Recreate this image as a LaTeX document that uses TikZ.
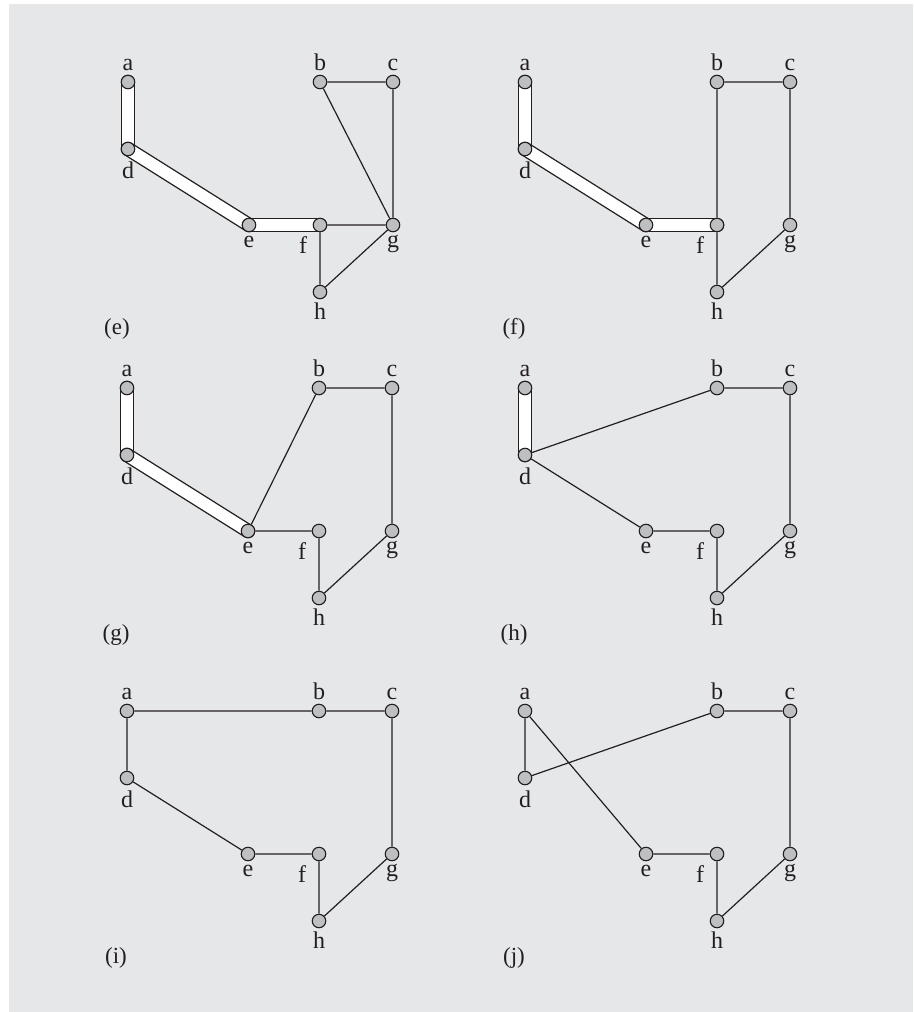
\documentclass[tikz,border=0pt]{standalone}
\usepackage{fontspec}
\setmainfont{Liberation Serif}
\usetikzlibrary{backgrounds}
\definecolor{bgcol}{RGB}{230,231,233}
\definecolor{vtxgray}{RGB}{190,191,193}
\definecolor{edgecol}{RGB}{35,31,32}
\tikzset{
  vtx/.style={circle,draw=edgecol,fill=vtxgray,line width=1.1pt,minimum size=13.5pt,inner sep=0pt},
  edge/.style={line width=1.2pt,draw=edgecol},
  tubeout/.style={line width=14.5pt,draw=edgecol,line cap=round},
  tubein/.style={line width=11.8pt,draw=white,line cap=round},
  lbl/.style={font=\fontsize{24}{24}\selectfont,anchor=base,inner sep=0pt,text=edgecol},
  plbl/.style={font=\fontsize{23}{23}\selectfont,anchor=base,inner sep=0pt,text=edgecol}
}
\newcommand{\graphpanel}[4]{%
  \begin{scope}[shift={(#2,#3)}]
    \node[vtx] (#1a) at (0,0) {};
    \node[vtx] (#1b) at (192,0) {};
    \node[vtx] (#1c) at (265,0) {};
    \node[vtx] (#1d) at (0,67) {};
    \node[vtx] (#1e) at (121,143) {};
    \node[vtx] (#1f) at (192,143) {};
    \node[vtx] (#1g) at (265,143) {};
    \node[vtx] (#1h) at (192,210) {};
    \node[lbl] (#1la) at (0,-12) {a};
    \node[lbl] (#1lb) at (192,-12) {b};
    \node[lbl] (#1lc) at (265,-12) {c};
    \node[lbl] (#1ld) at (0,96) {d};
    \node[lbl] (#1le) at (121,165) {e};
    \node[lbl] (#1lf) at (175,171) {f};
    \node[lbl] (#1lg) at (265,165) {g};
    \node[lbl] (#1lh) at (192,237) {h};
    \node[plbl] (#1cap) at (-11,252) {#4};
  \end{scope}}
\newcommand{\tubeseg}[2]{%
  \draw[tubeout] (#1.center) -- (#2.center);
  \draw[tubein] (#1.center) -- (#2.center);}
\begin{document}
\begin{tikzpicture}[x=1pt,y=-1pt]
\useasboundingbox (0,0) rectangle (913,1012);
\graphpanel{E}{128}{82}{(e)}
\graphpanel{F}{525}{82}{(f)}
\graphpanel{G}{127}{388}{(g)}
\graphpanel{H}{525}{388}{(h)}
\graphpanel{I}{127}{711}{(i)}
\graphpanel{J}{525}{711}{(j)}
\begin{pgfonlayer}{background}
  \fill[bgcol] (9,4) rectangle (913,1012);
  % (e)
  \tubeseg{Ea}{Ed}\tubeseg{Ed}{Ee}\tubeseg{Ee}{Ef}
  \draw[edge] (Eb) -- (Ec) (Eb) -- (Eg) (Ec) -- (Eg) (Ef) -- (Eg) (Ef) -- (Eh) (Eg) -- (Eh);
  % (f)
  \tubeseg{Fa}{Fd}\tubeseg{Fd}{Fe}\tubeseg{Fe}{Ff}
  \draw[edge] (Fb) -- (Fc) (Fb) -- (Ff) (Fc) -- (Fg) (Ff) -- (Fh) (Fg) -- (Fh);
  % (g)
  \tubeseg{Ga}{Gd}\tubeseg{Gd}{Ge}
  \draw[edge] (Ge) -- (Gb) (Gb) -- (Gc) (Gc) -- (Gg) (Ge) -- (Gf) (Gf) -- (Gh) (Gg) -- (Gh);
  % (h)
  \tubeseg{Ha}{Hd}
  \draw[edge] (Hd) -- (Hb) (Hb) -- (Hc) (Hc) -- (Hg) (Hd) -- (He) (He) -- (Hf) (Hf) -- (Hh) (Hg) -- (Hh);
  % (i)
  \draw[edge] (Ia) -- (Ib) (Ib) -- (Ic) (Ia) -- (Id) (Id) -- (Ie) (Ie) -- (If) (If) -- (Ih) (Ig) -- (Ih) (Ic) -- (Ig);
  % (j)
  \draw[edge] (Ja) -- (Jd) (Ja) -- (Je) (Jd) -- (Jb) (Jb) -- (Jc) (Jc) -- (Jg) (Je) -- (Jf) (Jf) -- (Jh) (Jg) -- (Jh);
\end{pgfonlayer}
\end{tikzpicture}
\end{document}
